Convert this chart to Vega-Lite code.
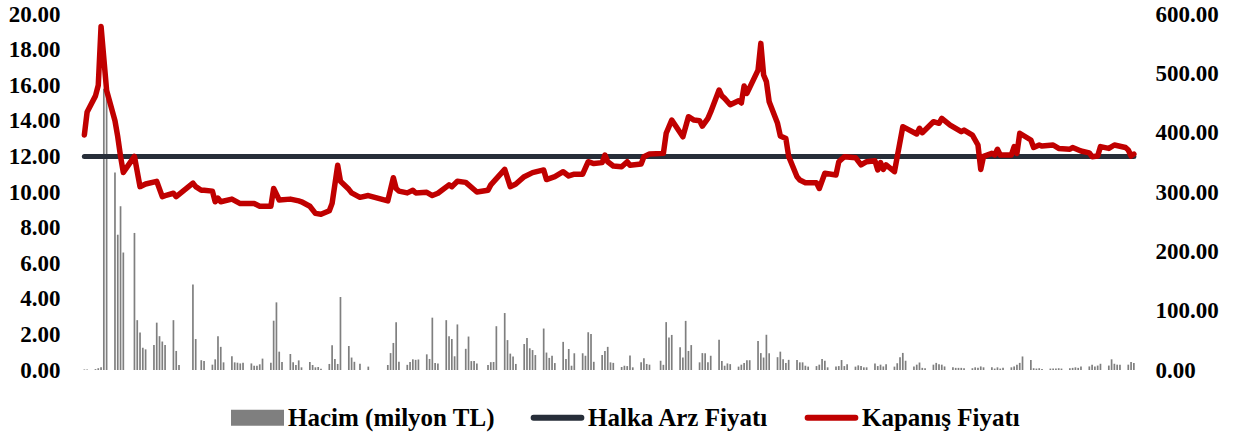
{
  "$schema": "https://vega.github.io/schema/vega-lite/v6.json",
  "autosize": {"type": "none"},
  "width": 1069,
  "height": 356,
  "padding": {"left": 76, "top": 14, "right": 105, "bottom": 70},
  "background": "white",
  "config": {
    "view": {"stroke": null},
    "axis": {"labelFont": "Liberation Serif", "labelFontWeight": "bold", "labelFontSize": 23, "labelColor": "#000000", "domain": false, "ticks": false, "grid": false, "title": null, "labelOverlap": false, "labelBound": false},
    "axisY": {"labelOverlap": false},
    "axisQuantitative": {"labelOverlap": false}
  },
  "datasets": {
    "hacim": [
      {"gun":0,"hacim":0.9},{"gun":1,"hacim":0.9},{"gun":4,"hacim":1.5},{"gun":5,"hacim":3},{"gun":6,"hacim":4.5},{"gun":7,"hacim":474},{"gun":8,"hacim":468},
      {"gun":11,"hacim":333},{"gun":12,"hacim":228},{"gun":13,"hacim":276},{"gun":14,"hacim":198},
      {"gun":18,"hacim":231},{"gun":19,"hacim":84},{"gun":20,"hacim":63},{"gun":21,"hacim":37.5},{"gun":22,"hacim":34.8},
      {"gun":25,"hacim":42},{"gun":26,"hacim":79.8},{"gun":27,"hacim":57},{"gun":28,"hacim":48},{"gun":29,"hacim":42},
      {"gun":32,"hacim":84},{"gun":33,"hacim":32.1},{"gun":34,"hacim":8.4},
      {"gun":39,"hacim":144},{"gun":40,"hacim":52.2},{"gun":42,"hacim":16.5},{"gun":43,"hacim":15},
      {"gun":46,"hacim":9},{"gun":47,"hacim":18},{"gun":48,"hacim":57},{"gun":49,"hacim":39},{"gun":50,"hacim":12.9},
      {"gun":53,"hacim":23.1},{"gun":54,"hacim":12.9},{"gun":55,"hacim":12.3},{"gun":56,"hacim":11.1},{"gun":57,"hacim":12.3},
      {"gun":60,"hacim":11.1},{"gun":61,"hacim":7.2},{"gun":62,"hacim":7.2},{"gun":63,"hacim":9.6},{"gun":64,"hacim":19.2},
      {"gun":67,"hacim":12.3},{"gun":68,"hacim":83.1},{"gun":69,"hacim":114},{"gun":70,"hacim":30.9},{"gun":71,"hacim":13.5},
      {"gun":74,"hacim":27},{"gun":75,"hacim":12.9},{"gun":76,"hacim":8.4},{"gun":77,"hacim":16.2},{"gun":78,"hacim":4.5},
      {"gun":81,"hacim":13.5},{"gun":82,"hacim":8.4},{"gun":83,"hacim":4.5},{"gun":84,"hacim":5.1},{"gun":85,"hacim":2.1},
      {"gun":88,"hacim":10.2},{"gun":89,"hacim":41.7},{"gun":90,"hacim":18.6},{"gun":91,"hacim":10.2},{"gun":92,"hacim":123},
      {"gun":95,"hacim":40.5},{"gun":96,"hacim":21},{"gun":97,"hacim":13.8},{"gun":99,"hacim":10.5},
      {"gun":102,"hacim":5.7},
      {"gun":109,"hacim":8.4},{"gun":110,"hacim":28.5},{"gun":111,"hacim":45.6},{"gun":112,"hacim":80.4},{"gun":113,"hacim":13.8},
      {"gun":116,"hacim":8.7},{"gun":117,"hacim":13.5},{"gun":118,"hacim":18},{"gun":119,"hacim":17.1},{"gun":120,"hacim":17.7},
      {"gun":123,"hacim":26.4},{"gun":124,"hacim":18.6},{"gun":125,"hacim":88.2},{"gun":126,"hacim":11.7},{"gun":127,"hacim":11.1},
      {"gun":130,"hacim":84},{"gun":131,"hacim":57},{"gun":132,"hacim":52.2},{"gun":133,"hacim":23.1},{"gun":134,"hacim":76.8},
      {"gun":137,"hacim":35.7},{"gun":138,"hacim":56.4},{"gun":139,"hacim":15},{"gun":140,"hacim":15},{"gun":141,"hacim":11.1},
      {"gun":145,"hacim":8.4},{"gun":146,"hacim":13.2},{"gun":147,"hacim":13.5},{"gun":148,"hacim":73.8},
      {"gun":151,"hacim":96},{"gun":152,"hacim":50.4},{"gun":153,"hacim":27.6},{"gun":154,"hacim":22.8},{"gun":155,"hacim":10.2},
      {"gun":158,"hacim":43.8},{"gun":159,"hacim":54},{"gun":160,"hacim":36.6},{"gun":161,"hacim":33.6},{"gun":162,"hacim":25.2},
      {"gun":165,"hacim":69.9},{"gun":166,"hacim":29.4},{"gun":167,"hacim":20.4},{"gun":168,"hacim":24},{"gun":169,"hacim":11.7},
      {"gun":172,"hacim":47.4},{"gun":173,"hacim":18.6},{"gun":174,"hacim":35.4},{"gun":175,"hacim":7.2},{"gun":176,"hacim":28.2},
      {"gun":179,"hacim":28.2},{"gun":180,"hacim":24},{"gun":181,"hacim":63.6},{"gun":182,"hacim":60.6},{"gun":183,"hacim":13.8},
      {"gun":186,"hacim":25.2},{"gun":187,"hacim":32.1},{"gun":188,"hacim":39},{"gun":189,"hacim":12.9},{"gun":190,"hacim":12},
      {"gun":193,"hacim":5.1},{"gun":194,"hacim":7.2},{"gun":195,"hacim":6.6},{"gun":196,"hacim":24.3},{"gun":197,"hacim":4.5},
      {"gun":200,"hacim":12.9},{"gun":201,"hacim":19.8},{"gun":202,"hacim":10.2},{"gun":203,"hacim":9},
      {"gun":207,"hacim":15.6},{"gun":208,"hacim":8.7},{"gun":209,"hacim":80.7},{"gun":210,"hacim":54.9},{"gun":211,"hacim":59.1},
      {"gun":214,"hacim":38.4},{"gun":215,"hacim":21},{"gun":216,"hacim":82.8},{"gun":217,"hacim":32.1},{"gun":218,"hacim":42},
      {"gun":221,"hacim":12.9},{"gun":222,"hacim":28.5},{"gun":223,"hacim":28.2},{"gun":224,"hacim":12.9},{"gun":225,"hacim":24},
      {"gun":228,"hacim":51},{"gun":229,"hacim":15},{"gun":230,"hacim":7.2},{"gun":231,"hacim":11.1},{"gun":232,"hacim":9.9},
      {"gun":235,"hacim":5.7},{"gun":236,"hacim":9},{"gun":237,"hacim":12},{"gun":238,"hacim":16.5},{"gun":239,"hacim":16.5},
      {"gun":242,"hacim":48.9},{"gun":243,"hacim":28.5},{"gun":244,"hacim":21},{"gun":245,"hacim":59.4},{"gun":246,"hacim":28.2},
      {"gun":249,"hacim":21.6},{"gun":250,"hacim":30.9},{"gun":251,"hacim":18},{"gun":252,"hacim":11.7},{"gun":253,"hacim":17.1},
      {"gun":256,"hacim":16.8},{"gun":257,"hacim":12.9},{"gun":258,"hacim":12.9},{"gun":259,"hacim":7.2},{"gun":260,"hacim":5.7},
      {"gun":263,"hacim":6.6},{"gun":264,"hacim":9},{"gun":265,"hacim":18.6},{"gun":266,"hacim":15.6},{"gun":267,"hacim":4.5},
      {"gun":270,"hacim":5.7},{"gun":271,"hacim":6.6},{"gun":272,"hacim":16.8},{"gun":273,"hacim":6.6},{"gun":274,"hacim":9.6},
      {"gun":277,"hacim":5.7},{"gun":278,"hacim":7.8},{"gun":279,"hacim":6.6},{"gun":280,"hacim":4.5},{"gun":281,"hacim":4.5},
      {"gun":284,"hacim":10.8},{"gun":285,"hacim":6.6},{"gun":286,"hacim":9},{"gun":287,"hacim":6},{"gun":288,"hacim":9.6},
      {"gun":291,"hacim":5.7},{"gun":292,"hacim":11.4},{"gun":293,"hacim":21.6},{"gun":294,"hacim":28.8},{"gun":295,"hacim":15.6},
      {"gun":298,"hacim":6},{"gun":299,"hacim":9},{"gun":300,"hacim":12.6},{"gun":301,"hacim":3.6},{"gun":302,"hacim":3},
      {"gun":305,"hacim":9},{"gun":306,"hacim":12},{"gun":307,"hacim":9.6},{"gun":308,"hacim":9},{"gun":309,"hacim":6},
      {"gun":312,"hacim":4.5},{"gun":313,"hacim":3.6},{"gun":314,"hacim":3.6},{"gun":315,"hacim":3.6},{"gun":316,"hacim":3},
      {"gun":319,"hacim":3},{"gun":320,"hacim":4.5},{"gun":321,"hacim":3.6},{"gun":322,"hacim":6},{"gun":323,"hacim":4.5},
      {"gun":326,"hacim":4.5},{"gun":327,"hacim":2.4},{"gun":328,"hacim":4.5},{"gun":329,"hacim":2.4},{"gun":330,"hacim":3.6},
      {"gun":333,"hacim":4.5},{"gun":334,"hacim":6},{"gun":335,"hacim":9},{"gun":336,"hacim":12},{"gun":337,"hacim":22.8},
      {"gun":340,"hacim":16.8},{"gun":341,"hacim":3},{"gun":342,"hacim":2.4},{"gun":343,"hacim":3},{"gun":344,"hacim":1.5},
      {"gun":347,"hacim":2.4},{"gun":348,"hacim":2.4},{"gun":349,"hacim":2.4},{"gun":350,"hacim":3},{"gun":351,"hacim":2.4},
      {"gun":354,"hacim":3},{"gun":355,"hacim":3.6},{"gun":356,"hacim":4.5},{"gun":357,"hacim":3.6},{"gun":358,"hacim":6},
      {"gun":361,"hacim":6},{"gun":362,"hacim":9},{"gun":363,"hacim":6},{"gun":364,"hacim":7.5},{"gun":365,"hacim":10.5},
      {"gun":368,"hacim":7.5},{"gun":369,"hacim":18},{"gun":370,"hacim":10.5},{"gun":371,"hacim":9},{"gun":372,"hacim":9},
      {"gun":375,"hacim":9},{"gun":376,"hacim":13.5},{"gun":377,"hacim":12}
    ],
    "fiyat": [
      {"gun":0,"fiyat":13.2,"halka":12},{"gun":1,"fiyat":14.5,"halka":12},{"gun":4,"fiyat":15.4,"halka":12},{"gun":5,"fiyat":16.0,"halka":12},
      {"gun":6,"fiyat":19.3,"halka":12},{"gun":7,"fiyat":17.5,"halka":12},{"gun":8,"fiyat":15.7,"halka":12},{"gun":11,"fiyat":14.0,"halka":12},
      {"gun":12,"fiyat":13.1,"halka":12},{"gun":13,"fiyat":12.0,"halka":12},{"gun":14,"fiyat":11.1,"halka":12},{"gun":18,"fiyat":12.0,"halka":12},
      {"gun":20,"fiyat":10.3,"halka":12},{"gun":22,"fiyat":10.45,"halka":12},{"gun":26,"fiyat":10.6,"halka":12},{"gun":28,"fiyat":9.74,"halka":12},
      {"gun":29,"fiyat":9.8,"halka":12},{"gun":32,"fiyat":9.93,"halka":12},{"gun":33,"fiyat":9.74,"halka":12},{"gun":39,"fiyat":10.5,"halka":12},
      {"gun":40,"fiyat":10.3,"halka":12},{"gun":42,"fiyat":10.1,"halka":12},{"gun":43,"fiyat":10.1,"halka":12},{"gun":46,"fiyat":10.05,"halka":12},
      {"gun":47,"fiyat":9.45,"halka":12},{"gun":48,"fiyat":9.65,"halka":12},{"gun":49,"fiyat":9.45,"halka":12},{"gun":53,"fiyat":9.6,"halka":12},
      {"gun":56,"fiyat":9.35,"halka":12},{"gun":61,"fiyat":9.35,"halka":12},{"gun":63,"fiyat":9.2,"halka":12},{"gun":67,"fiyat":9.2,"halka":12},
      {"gun":68,"fiyat":10.2,"halka":12},{"gun":70,"fiyat":9.55,"halka":12},{"gun":74,"fiyat":9.6,"halka":12},{"gun":77,"fiyat":9.5,"halka":12},
      {"gun":78,"fiyat":9.45,"halka":12},{"gun":81,"fiyat":9.2,"halka":12},{"gun":83,"fiyat":8.8,"halka":12},{"gun":85,"fiyat":8.75,"halka":12},
      {"gun":88,"fiyat":8.95,"halka":12},{"gun":89,"fiyat":9.36,"halka":12},{"gun":91,"fiyat":11.5,"halka":12},{"gun":92,"fiyat":10.6,"halka":12},
      {"gun":95,"fiyat":10.15,"halka":12},{"gun":96,"fiyat":9.95,"halka":12},{"gun":99,"fiyat":9.7,"halka":12},{"gun":102,"fiyat":9.8,"halka":12},
      {"gun":109,"fiyat":9.5,"halka":12},{"gun":111,"fiyat":10.8,"halka":12},{"gun":112,"fiyat":10.2,"halka":12},{"gun":113,"fiyat":10.05,"halka":12},
      {"gun":116,"fiyat":9.95,"halka":12},{"gun":118,"fiyat":10.1,"halka":12},{"gun":119,"fiyat":9.95,"halka":12},{"gun":123,"fiyat":9.98,"halka":12},
      {"gun":125,"fiyat":9.8,"halka":12},{"gun":127,"fiyat":9.93,"halka":12},{"gun":131,"fiyat":10.4,"halka":12},{"gun":132,"fiyat":10.3,"halka":12},
      {"gun":134,"fiyat":10.6,"halka":12},{"gun":137,"fiyat":10.54,"halka":12},{"gun":141,"fiyat":10.0,"halka":12},{"gun":145,"fiyat":10.1,"halka":12},
      {"gun":146,"fiyat":10.4,"halka":12},{"gun":151,"fiyat":11.27,"halka":12},{"gun":153,"fiyat":10.3,"halka":12},{"gun":155,"fiyat":10.45,"halka":12},
      {"gun":158,"fiyat":10.86,"halka":12},{"gun":161,"fiyat":11.09,"halka":12},{"gun":165,"fiyat":11.24,"halka":12},{"gun":166,"fiyat":10.7,"halka":12},
      {"gun":169,"fiyat":10.86,"halka":12},{"gun":172,"fiyat":11.14,"halka":12},{"gun":174,"fiyat":10.9,"halka":12},{"gun":176,"fiyat":11.0,"halka":12},
      {"gun":179,"fiyat":11.0,"halka":12},{"gun":181,"fiyat":11.7,"halka":12},{"gun":183,"fiyat":11.6,"halka":12},{"gun":186,"fiyat":11.65,"halka":12},
      {"gun":187,"fiyat":12.08,"halka":12},{"gun":188,"fiyat":11.7,"halka":12},{"gun":190,"fiyat":11.46,"halka":12},{"gun":193,"fiyat":11.42,"halka":12},
      {"gun":195,"fiyat":11.7,"halka":12},{"gun":196,"fiyat":11.5,"halka":12},{"gun":200,"fiyat":11.57,"halka":12},{"gun":201,"fiyat":11.98,"halka":12},
      {"gun":203,"fiyat":12.13,"halka":12},{"gun":208,"fiyat":12.17,"halka":12},{"gun":209,"fiyat":13.3,"halka":12},{"gun":211,"fiyat":14.04,"halka":12},
      {"gun":215,"fiyat":13.1,"halka":12},{"gun":217,"fiyat":14.23,"halka":12},{"gun":219,"fiyat":14.04,"halka":12},{"gun":221,"fiyat":14.0,"halka":12},
      {"gun":222,"fiyat":13.7,"halka":12},{"gun":224,"fiyat":14.14,"halka":12},{"gun":225,"fiyat":14.5,"halka":12},{"gun":228,"fiyat":15.73,"halka":12},
      {"gun":229,"fiyat":15.4,"halka":12},{"gun":230,"fiyat":15.26,"halka":12},{"gun":232,"fiyat":14.9,"halka":12},{"gun":235,"fiyat":15.13,"halka":12},
      {"gun":236,"fiyat":15.0,"halka":12},{"gun":237,"fiyat":15.96,"halka":12},{"gun":238,"fiyat":15.54,"halka":12},{"gun":242,"fiyat":16.85,"halka":12},
      {"gun":243,"fiyat":18.35,"halka":12},{"gun":244,"fiyat":16.57,"halka":12},{"gun":245,"fiyat":16.2,"halka":12},{"gun":246,"fiyat":15.07,"halka":12},
      {"gun":249,"fiyat":13.86,"halka":12},{"gun":250,"fiyat":13.15,"halka":12},{"gun":252,"fiyat":13.0,"halka":12},{"gun":253,"fiyat":12.0,"halka":12},
      {"gun":256,"fiyat":10.86,"halka":12},{"gun":257,"fiyat":10.67,"halka":12},{"gun":259,"fiyat":10.52,"halka":12},{"gun":263,"fiyat":10.52,"halka":12},
      {"gun":264,"fiyat":10.2,"halka":12},{"gun":266,"fiyat":11.05,"halka":12},{"gun":270,"fiyat":10.96,"halka":12},{"gun":271,"fiyat":11.7,"halka":12},
      {"gun":273,"fiyat":11.98,"halka":12},{"gun":277,"fiyat":11.93,"halka":12},{"gun":279,"fiyat":11.52,"halka":12},{"gun":281,"fiyat":11.7,"halka":12},
      {"gun":284,"fiyat":11.76,"halka":12},{"gun":285,"fiyat":11.24,"halka":12},{"gun":286,"fiyat":11.65,"halka":12},{"gun":287,"fiyat":11.27,"halka":12},
      {"gun":288,"fiyat":11.52,"halka":12},{"gun":291,"fiyat":11.14,"halka":12},{"gun":294,"fiyat":13.67,"halka":12},{"gun":299,"fiyat":13.26,"halka":12},
      {"gun":300,"fiyat":13.58,"halka":12},{"gun":301,"fiyat":13.33,"halka":12},{"gun":305,"fiyat":13.95,"halka":12},{"gun":307,"fiyat":13.86,"halka":12},
      {"gun":308,"fiyat":14.14,"halka":12},{"gun":311,"fiyat":13.76,"halka":12},{"gun":315,"fiyat":13.39,"halka":12},{"gun":316,"fiyat":13.48,"halka":12},
      {"gun":319,"fiyat":13.2,"halka":12},{"gun":321,"fiyat":12.64,"halka":12},{"gun":322,"fiyat":11.27,"halka":12},{"gun":323,"fiyat":12.0,"halka":12},
      {"gun":326,"fiyat":12.17,"halka":12},{"gun":327,"fiyat":12.08,"halka":12},{"gun":328,"fiyat":12.4,"halka":12},{"gun":329,"fiyat":12.08,"halka":12},
      {"gun":333,"fiyat":12.08,"halka":12},{"gun":334,"fiyat":12.55,"halka":12},{"gun":335,"fiyat":12.17,"halka":12},{"gun":336,"fiyat":13.3,"halka":12},
      {"gun":340,"fiyat":12.92,"halka":12},{"gun":341,"fiyat":12.5,"halka":12},{"gun":343,"fiyat":12.64,"halka":12},{"gun":344,"fiyat":12.58,"halka":12},
      {"gun":348,"fiyat":12.64,"halka":12},{"gun":350,"fiyat":12.45,"halka":12},{"gun":354,"fiyat":12.4,"halka":12},{"gun":355,"fiyat":12.5,"halka":12},
      {"gun":358,"fiyat":12.3,"halka":12},{"gun":361,"fiyat":12.2,"halka":12},{"gun":362,"fiyat":11.98,"halka":12},{"gun":364,"fiyat":12.02,"halka":12},
      {"gun":365,"fiyat":12.55,"halka":12},{"gun":368,"fiyat":12.45,"halka":12},{"gun":370,"fiyat":12.64,"halka":12},{"gun":374,"fiyat":12.5,"halka":12},
      {"gun":375,"fiyat":12.36,"halka":12},{"gun":376,"fiyat":12.02,"halka":12},{"gun":377,"fiyat":12.13,"halka":12}
    ]
  },
  "layer": [
    {
      "data": {"name": "hacim"},
      "mark": {"type": "bar", "size": 1.7, "color": "#7f7f7f"},
      "encoding": {
        "x": {"field": "gun", "type": "quantitative", "scale": {"domain": [-3, 381], "nice": false, "zero": false, "padding": 0}, "axis": null},
        "y": {"field": "hacim", "type": "quantitative", "scale": {"domain": [0, 600], "nice": false}, "axis": {"orient": "right", "values": [0, 100, 200, 300, 400, 500, 600], "format": ".2f", "labelPadding": 10, "labelOverlap": false}},
        "color": {
          "datum": "Hacim (milyon TL)",
          "type": "nominal",
          "scale": {"domain": ["Hacim (milyon TL)", "Halka Arz Fiyatı", "Kapanış Fiyatı"], "range": ["#7f7f7f", "#272e39", "#c00000"]},
          "legend": {
            "orient": "none", "legendX": 169, "legendY": 391, "direction": "horizontal", "title": null, "padding": 0,
            "labelFont": "Liberation Serif", "labelFontWeight": "bold", "labelFontSize": 25, "labelColor": "#000000", "labelLimit": 0,
            "labelOffset": 18, "columnPadding": 26, "symbolSize": 2809, "symbolStrokeWidth": 6,
            "encode": {
              "symbols": {
                "update": {
                  "shape": {"signal": "datum.value === 'Hacim (milyon TL)' ? 'M-1,-0.3H1V0.3H-1Z' : 'M-0.9,0H0.9'"},
                  "fill": {"signal": "datum.value === 'Hacim (milyon TL)' ? '#7f7f7f' : 'transparent'"},
                  "stroke": {"signal": "datum.value === 'Hacim (milyon TL)' ? '#7f7f7f' : (datum.value === 'Halka Arz Fiyatı' ? '#272e39' : '#c00000')"},
                  "strokeWidth": {"signal": "datum.value === 'Hacim (milyon TL)' ? 0 : 6"},
                  "strokeCap": {"value": "round"},
                  "opacity": {"value": 1}
                }
              }
            }
          }
        }
      }
    },
    {
      "data": {"name": "fiyat"},
      "encoding": {
        "x": {"field": "gun", "type": "quantitative", "scale": {"domain": [-3, 381], "nice": false, "zero": false, "padding": 0}, "axis": null}
      },
      "layer": [
        {
          "mark": {"type": "line", "strokeWidth": 5, "strokeCap": "round", "color": "#272e39"},
          "encoding": {
            "y": {"field": "halka", "type": "quantitative", "scale": {"domain": [0, 20], "nice": false}, "axis": {"orient": "left", "values": [0, 2, 4, 6, 8, 10, 12, 14, 16, 18, 20], "format": ".2f", "labelPadding": 16, "labelOverlap": false}},
            "color": {"datum": "Halka Arz Fiyatı", "type": "nominal"}
          }
        },
        {
          "mark": {"type": "line", "strokeWidth": 5.5, "strokeCap": "round", "strokeJoin": "round", "color": "#c00000"},
          "encoding": {
            "y": {"field": "fiyat", "type": "quantitative", "axis": {"orient": "left", "values": [0, 2, 4, 6, 8, 10, 12, 14, 16, 18, 20], "format": ".2f", "labelPadding": 16, "labelOverlap": false}},
            "color": {"datum": "Kapanış Fiyatı", "type": "nominal"}
          }
        }
      ]
    }
  ],
  "resolve": {"scale": {"y": "independent"}}
}
